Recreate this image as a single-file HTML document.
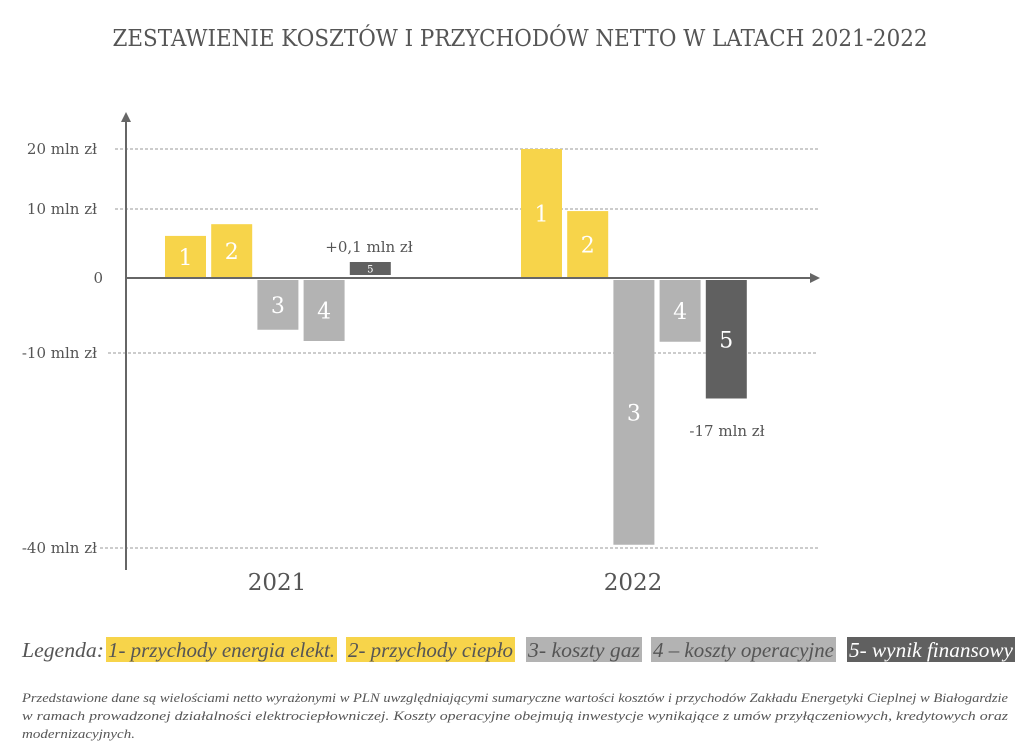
<!DOCTYPE html>
<html><head><meta charset="utf-8"><style>
body{margin:0;background:#fff}
svg{display:block;font-family:"DejaVu Serif","Liberation Serif",serif}
</style></head><body>
<svg width="1024" height="755" viewBox="0 0 1024 755">
<text x="520" y="46" text-anchor="middle" font-size="23" fill="#555" textLength="815" lengthAdjust="spacingAndGlyphs">ZESTAWIENIE KOSZTÓW I PRZYCHODÓW NETTO W LATACH 2021-2022</text>
<g id="grid"></g>
<g id="bars"></g>
<line x1="126" y1="118" x2="126" y2="570" stroke="#666" stroke-width="2"/>
<polygon points="126,112 121,122 131,122" fill="#666"/>
<line x1="126" y1="278" x2="812" y2="278" stroke="#666" stroke-width="2"/>
<polygon points="820,278 810,273 810,283" fill="#666"/>
<g id="labels"></g>
<text x="369" y="252" text-anchor="middle" font-size="15" fill="#555">+0,1 mln zł</text>
<text x="727" y="436" text-anchor="middle" font-size="15" fill="#555">-17 mln zł</text>
<g font-family="Liberation Serif, serif" font-style="italic" font-size="21" fill="#555">
<text x="22" y="657" textLength="82" lengthAdjust="spacingAndGlyphs">Legenda:</text>
<rect x="106" y="637" width="231" height="25" fill="#f7d44a"/>
<text x="108" y="657" textLength="227" lengthAdjust="spacingAndGlyphs">1- przychody energia elekt.</text>
<rect x="346" y="637" width="169" height="25" fill="#f7d44a"/>
<text x="348" y="657" textLength="165" lengthAdjust="spacingAndGlyphs">2- przychody ciepło</text>
<rect x="526" y="637" width="116" height="25" fill="#b3b3b3"/>
<text x="528" y="657" textLength="112" lengthAdjust="spacingAndGlyphs">3- koszty gaz</text>
<rect x="651" y="637" width="185" height="25" fill="#b3b3b3"/>
<text x="653" y="657" textLength="181" lengthAdjust="spacingAndGlyphs">4 – koszty operacyjne</text>
<rect x="847" y="637" width="168" height="25" fill="#606060"/>
<text x="849" y="657" textLength="164" lengthAdjust="spacingAndGlyphs" fill="#fff">5- wynik finansowy</text>
</g>
<g font-family="Liberation Serif, serif" font-style="italic" font-size="13" fill="#555">
<text x="22" y="702" textLength="986" lengthAdjust="spacingAndGlyphs">Przedstawione dane są wielościami netto wyrażonymi w PLN uwzględniającymi sumaryczne wartości kosztów i przychodów Zakładu Energetyki Cieplnej w Białogardzie</text>
<text x="22" y="720" textLength="986" lengthAdjust="spacingAndGlyphs">w ramach prowadzonej działalności elektrociepłowniczej. Koszty operacyjne obejmują inwestycje wynikające z umów przyłączeniowych, kredytowych oraz</text>
<text x="22" y="738" textLength="113" lengthAdjust="spacingAndGlyphs">modernizacyjnych.</text>
</g>
</svg>
<script>
const years = ["2021","2022"];
const series1 = [6.1, 20];
const series2 = [7.8, 9.7];
const series3 = [-6.9, -39.5];
const series4 = [-8.4, -8.5];
const series5 = [0.1, -17];
const tickValues = [20, 10, 0, -10, -40];
const tickLabels = ["20 mln zł","10 mln zł","0","-10 mln zł","-40 mln zł"];
// broken (piecewise) value axis: knots at tick values
const knotPx = [149, 209, 278, 353, 548];
function y(v){
  for(let i=0;i<tickValues.length-1;i++){
    const a=tickValues[i],b=tickValues[i+1];
    if(v<=a && v>=b) return knotPx[i]+(a-v)/(a-b)*(knotPx[i+1]-knotPx[i]);
  }
  if(v>tickValues[0]) return knotPx[0]-(v-tickValues[0])*6;
  return knotPx[4]+(tickValues[4]-v)*6.5;
}
const groupX=[165,521];
function x(g,s){return groupX[g]+s*46.2;}
const colors=["#f7d44a","#f7d44a","#b3b3b3","#b3b3b3","#606060"];
const NS="http://www.w3.org/2000/svg";
const grid=document.getElementById('grid'),bars=document.getElementById('bars'),labels=document.getElementById('labels');
tickValues.forEach((v,i)=>{
  const yy=y(v);
  if(v!==0){
    const l=document.createElementNS(NS,'line');
    l.setAttribute('x1',v>0?115:(v===-10?108:100));l.setAttribute('x2',818);
    l.setAttribute('y1',yy);l.setAttribute('y2',yy);
    l.setAttribute('stroke','#999');l.setAttribute('stroke-dasharray','3,2');l.setAttribute('stroke-width','1');
    
    
    grid.appendChild(l);
  }
  const t=document.createElementNS(NS,'text');
  t.setAttribute('x',v===0?103:97);t.setAttribute('y',yy+5);t.setAttribute('text-anchor','end');
  t.setAttribute('font-size','15');t.setAttribute('fill','#555');t.textContent=tickLabels[i];
  
  
  labels.appendChild(t);
});
const all=[series1,series2,series3,series4,series5];
years.forEach((yr,g)=>{
  all.forEach((ser,s)=>{
    const v=ser[g];const y0=y(0);
    let top,h;
    if(v>=0){top=y(v);h=y0-top;if(h<13){h=13;top=y0-3-h;}}
    else{top=y0+2;h=y(v)-top;}
    const r=document.createElementNS(NS,'rect');
    r.setAttribute('x',x(g,s));r.setAttribute('y',top);r.setAttribute('width',41);r.setAttribute('height',h);
    r.setAttribute('fill',colors[s]);
    
    
    bars.appendChild(r);
    const t=document.createElementNS(NS,'text');
    const small=h<20;
    t.setAttribute('x',x(g,s)+20.5);t.setAttribute('y',top+h/2+(small?4:8));
    t.setAttribute('text-anchor','middle');t.setAttribute('fill','#fff');
    t.setAttribute('font-size',small?'10':'22');t.textContent=String(s+1);
    
    
    bars.appendChild(t);
  });
  const yl=document.createElementNS(NS,'text');
  yl.setAttribute('x',groupX[g]+112);yl.setAttribute('y',590);yl.setAttribute('text-anchor','middle');
  yl.setAttribute('font-size','23');yl.setAttribute('fill','#555');yl.textContent=yr;
  
  
  labels.appendChild(yl);
});
</script>
</body></html>
